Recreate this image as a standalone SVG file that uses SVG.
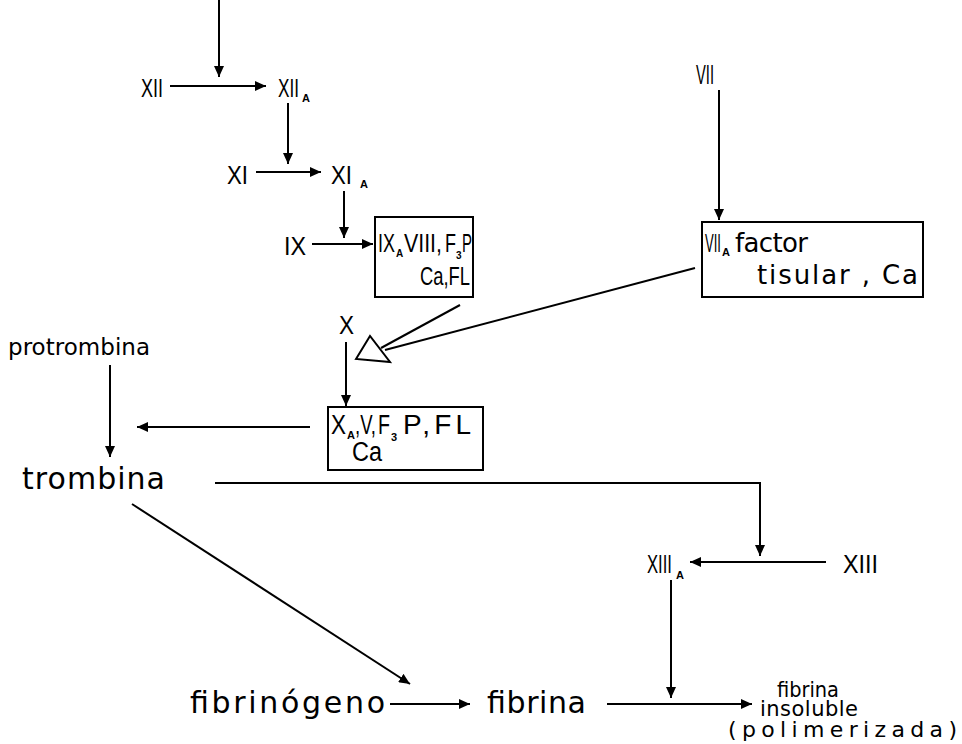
<svg xmlns="http://www.w3.org/2000/svg" width="962" height="744" viewBox="0 0 962 744">
<defs>
<marker id="ah" markerUnits="userSpaceOnUse" markerWidth="12" markerHeight="10" refX="11" refY="5" orient="auto">
<path d="M0,0 L11,5 L0,10 Z" fill="#000"/>
</marker>
<style>
.r{font-family:"Liberation Sans Narrow","Liberation Sans",Arial,sans-serif;font-size:26px;fill:#000}
.t{font-family:"Liberation Sans",Arial,sans-serif;font-size:27px;fill:#000}
.w{font-family:"DejaVu Sans","Liberation Sans",sans-serif;font-size:30px;fill:#000}
.d{font-family:"DejaVu Sans","Liberation Sans",sans-serif;font-size:26px;fill:#000}
.m{font-family:"DejaVu Sans","Liberation Sans",sans-serif;font-size:22px;fill:#000}
.s{font-family:"Liberation Sans",Arial,sans-serif;font-size:11px;font-weight:bold;fill:#000}
.b{fill:#fff;stroke:#000;stroke-width:2}
.c{fill:none;stroke:#000;stroke-width:2;marker-end:url(#ah)}
.n{fill:none;stroke:#000;stroke-width:2}
</style>
</defs>
<rect width="962" height="744" fill="#fff"/>
<g id="connectors">
<line class="c" x1="219" y1="0" x2="219" y2="77"/>
<line class="c" x1="170" y1="86" x2="266" y2="86"/>
<line class="c" x1="288" y1="103" x2="288" y2="164"/>
<line class="c" x1="256" y1="172" x2="321" y2="172"/>
<line class="c" x1="344" y1="191" x2="344" y2="238"/>
<line class="c" x1="312" y1="244" x2="373" y2="244"/>
<line class="c" x1="719" y1="90" x2="719" y2="220"/>
<line class="n" x1="460" y1="305" x2="381" y2="348"/>
<line class="n" x1="695" y1="268" x2="385" y2="350"/>
<polygon points="356,359 370,336 390,362" fill="#fff" stroke="#000" stroke-width="2"/>
<line class="c" x1="346" y1="342" x2="346" y2="406"/>
<line class="c" x1="310" y1="427" x2="137" y2="427"/>
<line class="c" x1="110" y1="365" x2="110" y2="457"/>
<polyline class="c" points="215,483 760,483 760,556"/>
<line class="c" x1="826" y1="562" x2="690" y2="562"/>
<line class="c" x1="671" y1="580" x2="671" y2="698"/>
<line class="c" x1="132" y1="504" x2="410" y2="684"/>
<line class="c" x1="390" y1="704" x2="470" y2="704"/>
<line class="c" x1="607" y1="704" x2="752" y2="704"/>
</g>
<g id="n-XII"><text class="r" x="141" y="97" textLength="22" lengthAdjust="spacingAndGlyphs">XII</text></g>
<g id="n-XIIa"><text class="r" x="278" y="97" textLength="21" lengthAdjust="spacingAndGlyphs">XII</text><text class="s" x="302" y="102">A</text></g>
<g id="n-XI"><text class="r" x="227" y="184" textLength="21" lengthAdjust="spacingAndGlyphs">XI</text></g>
<g id="n-XIa"><text class="r" x="331" y="184" textLength="21" lengthAdjust="spacingAndGlyphs">XI</text><text class="s" x="360" y="188">A</text></g>
<g id="n-IX"><text class="r" x="284" y="255" textLength="22" lengthAdjust="spacingAndGlyphs">IX</text></g>
<g id="n-box1">
<rect class="b" x="375" y="217" width="98" height="80"/>
<text class="r" x="378" y="252" textLength="17" lengthAdjust="spacingAndGlyphs">IX</text><text class="s" x="396" y="257" style="font-size:10px">A</text>
<text class="r" x="404" y="252" textLength="38" lengthAdjust="spacingAndGlyphs">VIII,</text>
<text class="r" x="445" y="252" textLength="11" lengthAdjust="spacingAndGlyphs">F</text><text class="s" x="456" y="259" style="font-size:10px">3</text>
<text class="r" x="462" y="252" textLength="10" lengthAdjust="spacingAndGlyphs">P</text>
<text class="r" x="420" y="285" textLength="50" lengthAdjust="spacingAndGlyphs">Ca,FL</text>
</g>
<g id="n-VII"><text class="r" x="696" y="84" style="font-size:28px" textLength="18" lengthAdjust="spacingAndGlyphs">VII</text></g>
<g id="n-box2">
<rect class="b" x="702" y="222" width="221" height="75"/>
<text class="r" x="705" y="252" textLength="16" lengthAdjust="spacingAndGlyphs">VII</text><text class="s" x="722" y="256">A</text>
<text class="d" x="735" y="252" textLength="73" lengthAdjust="spacing">factor</text>
<text class="d" x="757" y="284" textLength="161" lengthAdjust="spacing">tisular , Ca</text>
</g>
<g id="n-X"><text class="r" x="339" y="334" textLength="15" lengthAdjust="spacingAndGlyphs">X</text></g>
<g id="n-protrombina"><text class="m" x="8" y="355" style="font-size:23px" textLength="142" lengthAdjust="spacing">protrombina</text></g>
<g id="n-box3">
<rect class="b" x="328" y="407" width="155" height="63"/>
<text class="r" x="331" y="434" style="font-size:28px" textLength="15" lengthAdjust="spacingAndGlyphs">X</text><text class="s" x="347" y="439">A</text>
<text class="r" x="355" y="434" style="font-size:28px" textLength="21" lengthAdjust="spacingAndGlyphs">,V,</text>
<text class="r" x="378" y="434" style="font-size:28px" textLength="12" lengthAdjust="spacingAndGlyphs">F</text><text class="s" x="391" y="441">3</text>
<text class="t" x="403" y="434" style="font-size:28px" textLength="68" lengthAdjust="spacing">P,FL</text>
<text class="t" x="352" y="461" textLength="30" lengthAdjust="spacingAndGlyphs">Ca</text>
</g>
<g id="n-trombina"><text class="w" x="22" y="489" textLength="143" lengthAdjust="spacing">trombina</text></g>
<g id="n-XIIIa"><text class="r" x="647" y="573" textLength="25" lengthAdjust="spacingAndGlyphs">XIII</text><text class="s" x="676" y="579">A</text></g>
<g id="n-XIII"><text class="r" x="843" y="573" textLength="35" lengthAdjust="spacingAndGlyphs">XIII</text></g>
<g id="n-fibrinogeno"><text class="w" x="190" y="713" textLength="195" lengthAdjust="spacing">fibrinógeno</text></g>
<g id="n-fibrina"><text class="w" x="487" y="713" textLength="99" lengthAdjust="spacing">fibrina</text></g>
<g id="n-fibrina-insoluble">
<text class="m" x="777" y="697" style="font-size:21px" textLength="62" lengthAdjust="spacingAndGlyphs">fibrina</text>
<text class="m" x="760" y="716" style="font-size:21px" textLength="98" lengthAdjust="spacing">insoluble</text>
<text class="m" x="728" y="737" textLength="229" lengthAdjust="spacing">(polimerizada)</text>
</g>
</svg>
